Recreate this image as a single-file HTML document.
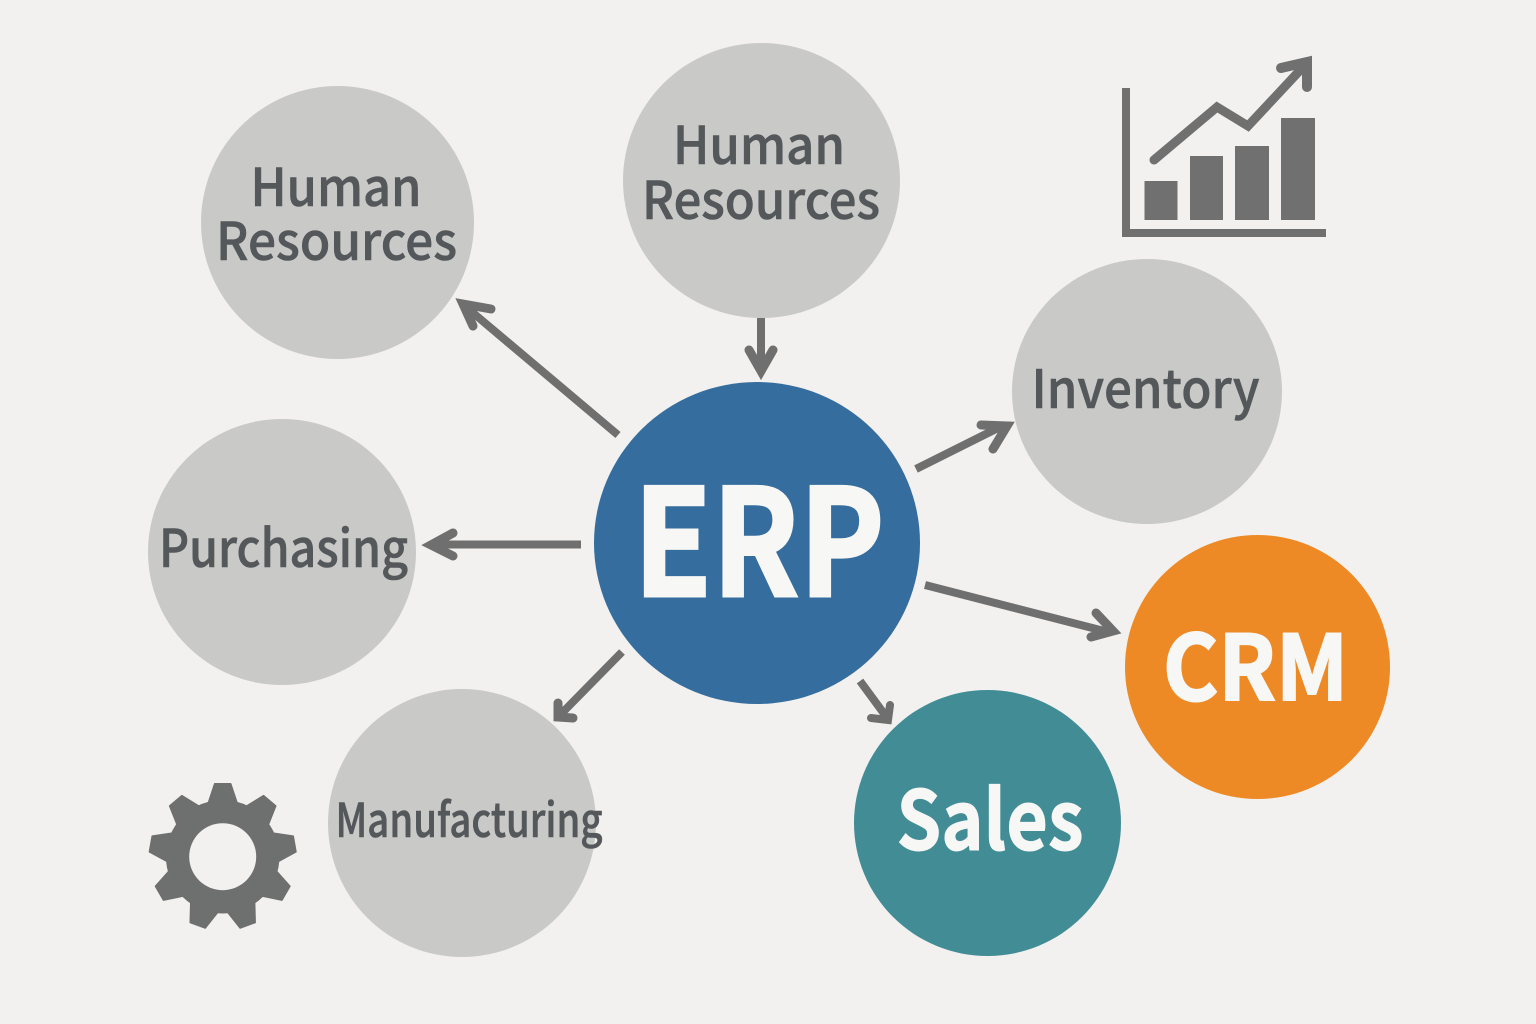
<!DOCTYPE html>
<html lang="en">
<head>
<meta charset="utf-8">
<title>ERP diagram</title>
<style>
html,body{margin:0;padding:0;background:#f2f1ef;width:1536px;height:1024px;overflow:hidden}
svg{display:block}
text{font-family:"Noto Sans CJK JP","Liberation Sans",sans-serif}
.g{fill:#54585b;font-weight:500;text-anchor:middle;stroke:#54585b;stroke-width:.6}
.w{fill:#f7f7f5;font-weight:700;text-anchor:middle;stroke:#f7f7f5}
.s{stroke:#6f6f6f;stroke-width:8;fill:none;stroke-linecap:butt}
.h{stroke:#6f6f6f;stroke-width:9;fill:none;stroke-linecap:round;stroke-linejoin:miter;stroke-miterlimit:10}
</style>
</head>
<body>
<svg width="1536" height="1024" viewBox="0 0 1536 1024" xmlns="http://www.w3.org/2000/svg">
<rect width="1536" height="1024" fill="#f2f1ef"/>
<ellipse cx="337.500" cy="222.500" rx="136.500" ry="136.500" fill="#c9c9c7"/>
<ellipse cx="761.500" cy="180.500" rx="138.500" ry="137.500" fill="#c9c9c7"/>
<ellipse cx="1147" cy="391.500" rx="135" ry="132.500" fill="#c9c9c7"/>
<ellipse cx="282" cy="552" rx="134" ry="133" fill="#c9c9c7"/>
<ellipse cx="462" cy="823" rx="134" ry="134" fill="#c9c9c7"/>
<ellipse cx="757" cy="543" rx="163" ry="161" fill="#346d9e"/>
<ellipse cx="1257.500" cy="667" rx="132.500" ry="132" fill="#ee8a25"/>
<ellipse cx="987.500" cy="823" rx="133.500" ry="133" fill="#428c96"/>

<text class="g" font-size="52" x="336" y="206" textLength="171" lengthAdjust="spacingAndGlyphs">Human</text>
<text class="g" font-size="52" x="336.500" y="260" textLength="241" lengthAdjust="spacingAndGlyphs">Resources</text>
<text class="g" font-size="52" x="759" y="164" textLength="172" lengthAdjust="spacingAndGlyphs">Human</text>
<text class="g" font-size="52" x="761" y="219" textLength="238" lengthAdjust="spacingAndGlyphs">Resources</text>
<text class="g" font-size="53" x="1145.500" y="408" textLength="228" lengthAdjust="spacingAndGlyphs">Inventory</text>
<text class="g" font-size="52" x="283.500" y="567" textLength="249" lengthAdjust="spacingAndGlyphs">Purchasing</text>
<text class="g" font-size="47" x="469" y="837" textLength="267" lengthAdjust="spacingAndGlyphs">Manufacturing</text>
<text class="w" font-size="148" x="759" y="596" textLength="251" lengthAdjust="spacingAndGlyphs" style="stroke-width:3">ERP</text>
<text class="w" font-size="90" x="1255.500" y="700" textLength="185" lengthAdjust="spacingAndGlyphs" style="stroke-width:2">CRM</text>
<text class="w" font-size="82" x="990" y="850" textLength="187" lengthAdjust="spacingAndGlyphs" style="stroke-width:1">Sales</text>

<path class="s" d="M618 435L466 307"/>
<polyline class="h" points="491,309 463,304 473,326"/>
<path class="s" d="M761 318V366"/>
<polyline class="h" points="749,350 761,371 773,350"/>
<path class="s" d="M916 469L1002 426"/>
<polyline class="h" points="981,425 1007,426 993,449"/>
<path class="s" d="M581 544.500H436"/>
<polyline class="h" points="453,533 431,545 453,556"/>
<path class="s" d="M925 585L1108 632"/>
<polyline class="h" points="1096,613 1113,631 1091,637"/>
<path class="s" d="M860 681L885 715"/>
<polyline class="h" style="stroke-width:8" points="890,705 888,720 871,718"/>
<path class="s" d="M622 652L562 713"/>
<polyline class="h" points="558,703 558,717 573,718"/>

<g fill="#6f706f">
<path d="M1122 88h8v141h196v8h-204z"/>
<rect x="1144.500" y="181" width="33" height="39"/>
<rect x="1190" y="156" width="33" height="64"/>
<rect x="1235" y="146" width="34" height="74"/>
<rect x="1281" y="118" width="34" height="102"/>
</g>
<path d="M1154 160L1217 107L1248 126L1304 66" fill="none" stroke="#6f706f" stroke-width="9" stroke-linecap="round" stroke-linejoin="miter"/>
<polyline points="1281,68 1307,62 1307,87" fill="none" stroke="#6f706f" stroke-width="10" stroke-linecap="round" stroke-linejoin="miter" stroke-miterlimit="10"/>

<g transform="translate(222.700 856.700)">
<g fill="#6e6f6f" stroke="#6e6f6f" stroke-width="1.500" stroke-linejoin="round">
<polygon points="-15,-52 -8,-73 8,-73 15,-52"/>
<polygon points="-15,-52 -8,-73 8,-73 15,-52" transform="rotate(40)"/>
<polygon points="-15,-52 -8,-73 8,-73 15,-52" transform="rotate(80)"/>
<polygon points="-15,-52 -8,-73 8,-73 15,-52" transform="rotate(120)"/>
<polygon points="-15,-52 -8,-73 8,-73 15,-52" transform="rotate(160)"/>
<polygon points="-15,-52 -8,-73 8,-73 15,-52" transform="rotate(200)"/>
<polygon points="-15,-52 -8,-73 8,-73 15,-52" transform="rotate(240)"/>
<polygon points="-15,-52 -8,-73 8,-73 15,-52" transform="rotate(280)"/>
<polygon points="-15,-52 -8,-73 8,-73 15,-52" transform="rotate(320)"/>
<circle r="56"/>
</g>
<circle r="33.500" fill="#f2f1ef"/>
</g>
</svg>
</body>
</html>
